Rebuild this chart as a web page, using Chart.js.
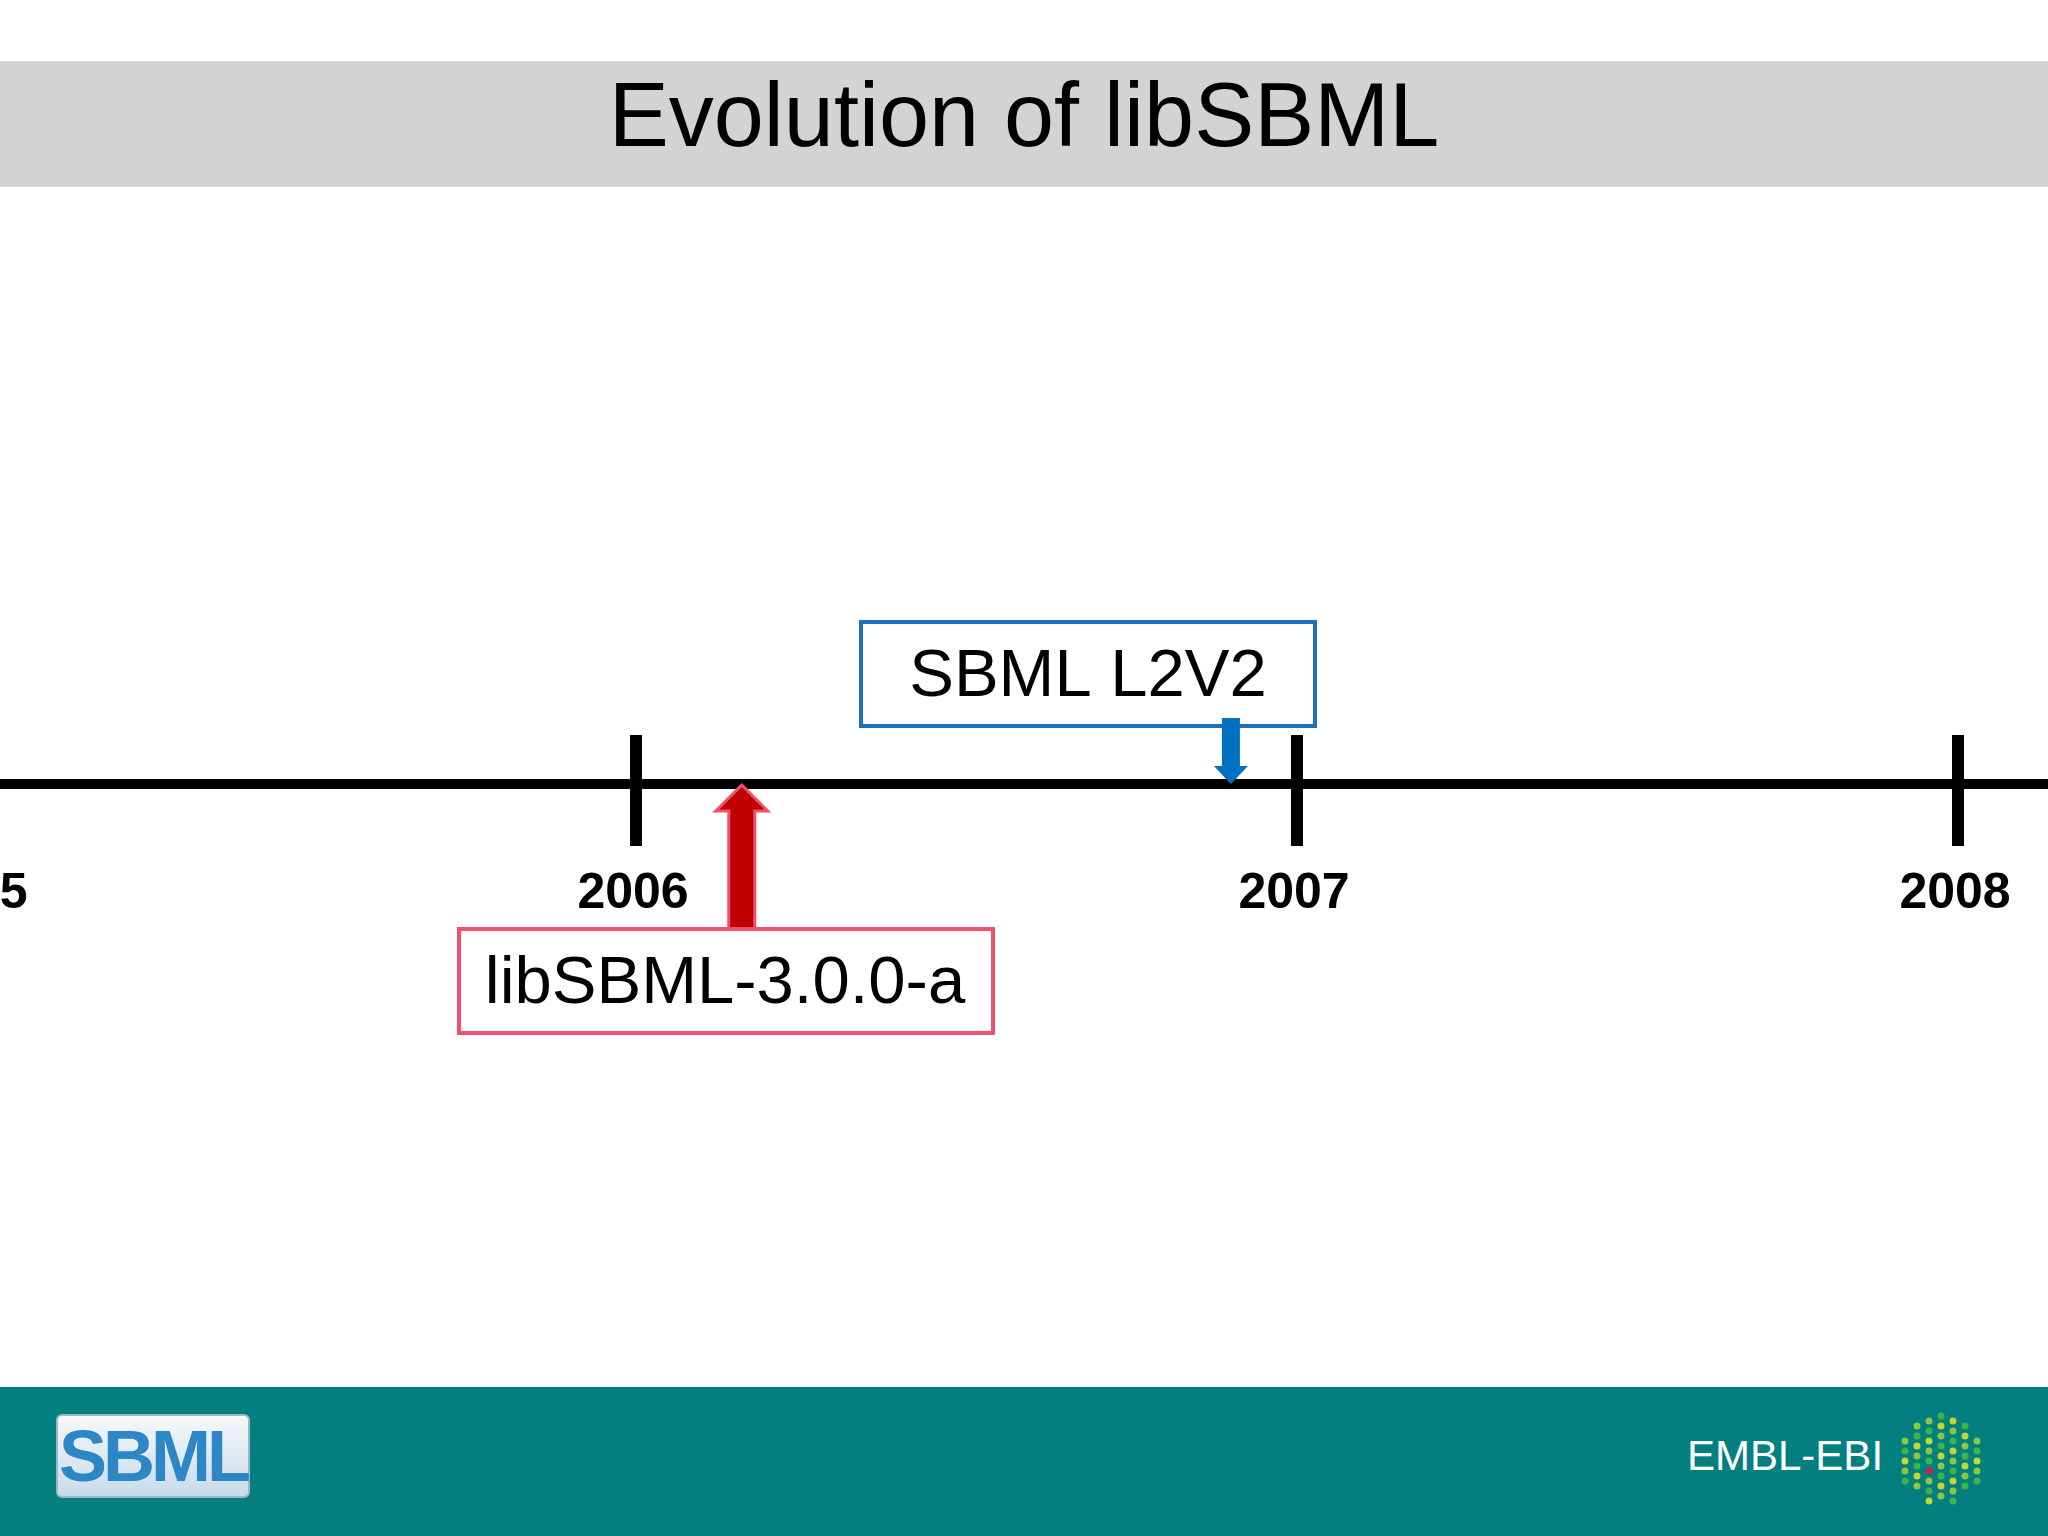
<!DOCTYPE html>
<html>
<head>
<meta charset="utf-8">
<script src="https://cdn.jsdelivr.net/npm/chart.js@4/dist/chart.umd.min.js"></script>
<style>
  html, body { margin: 0; padding: 0; background: #fff; }
  #wrap { position: relative; width: 2048px; height: 1536px; overflow: hidden; }
  #band { position: absolute; left: 0; top: 61px; width: 2048px; height: 126px; background: #d3d3d3; }
  #title { position: absolute; left: 0; top: 64px; width: 2048px; height: 126px; line-height: 126px;
           text-align: center; font: 90px "Liberation Sans", Arial, sans-serif; color: #000; }
  #footer { position: absolute; left: 0; top: 1387px; width: 2048px; height: 149px; background: #037f7f; }
  #sbml { position: absolute; left: 56px; top: 1414px; width: 190px; height: 80px; border-radius: 6px;
          background: linear-gradient(#f4f8fb, #c9dbe9); border: 2px solid #9fb6c8;
          font: bold 72px "Liberation Sans", Arial, sans-serif; color: #2d86c6; line-height: 80px;
          text-align: center; letter-spacing: -4px; }
  #ebi { position: absolute; left: 1687px; top: 1432px; font: 42px "Liberation Sans", Arial, sans-serif; color: #fff; }
  canvas { position: absolute; left: 0; top: 0; }
</style>
</head>
<body>
<div id="wrap">
  <div id="band"></div>
  <div id="title">Evolution of libSBML</div>
  <div id="footer"></div>
  <div id="sbml">SBML</div>
  <div id="ebi">EMBL-EBI</div>
  <canvas id="timeline" width="2048" height="1536"></canvas>
</div>
<script>
const years = [2005, 2006, 2007, 2008];
const eventLabels = ['libSBML-3.0.0-a', 'SBML L2V2'];
const eventDates = [2006.16, 2006.9];
const eventColors = ['#c00000', '#0070c0'];
const eventBorders = ['#f0506e', '#1f6fc0'];
const eventSides = ['below', 'above'];

const LINE_Y = 784;

const timelinePlugin = {
  id: 'timeline',
  afterDraw(chart) {
    const ctx = chart.ctx;
    const x = chart.scales.x;
    ctx.save();
    // main line
    ctx.fillStyle = '#000';
    ctx.fillRect(0, LINE_Y - 5, chart.width, 10);
    // ticks and labels
    ctx.font = 'bold 50px "Liberation Sans", Arial, sans-serif';
    ctx.textAlign = 'center';
    ctx.textBaseline = 'middle';
    years.forEach(y => {
      const px = x.getPixelForValue(y);
      ctx.fillRect(px - 6, 735, 12, 111);
      ctx.fillText(String(y), px - 3, 894);
    });
    // events
    eventDates.forEach((d, i) => {
      const px = x.getPixelForValue(d);
      ctx.fillStyle = eventColors[i];
      ctx.lineWidth = 3;
      if (eventSides[i] === 'below') {
        ctx.beginPath();
        ctx.moveTo(px, LINE_Y + 1);
        ctx.lineTo(px + 26, LINE_Y + 27);
        ctx.lineTo(px + 13, LINE_Y + 27);
        ctx.lineTo(px + 13, 929);
        ctx.lineTo(px - 13, 929);
        ctx.lineTo(px - 13, LINE_Y + 27);
        ctx.lineTo(px - 26, LINE_Y + 27);
        ctx.closePath();
        ctx.strokeStyle = '#f0506e';
        ctx.fill();
        ctx.stroke();
        // box
        ctx.strokeStyle = eventBorders[i];
        ctx.lineWidth = 4;
        ctx.fillStyle = '#fff';
        ctx.fillRect(459, 929, 534, 104);
        ctx.strokeRect(459, 929, 534, 104);
        ctx.fillStyle = '#000';
        ctx.font = '67px "Liberation Sans", Arial, sans-serif';
        ctx.fillText(eventLabels[i], 725, 985);
      } else {
        ctx.strokeStyle = eventBorders[i];
        ctx.lineWidth = 4;
        ctx.fillStyle = '#fff';
        ctx.fillRect(861, 622, 454, 104);
        ctx.strokeRect(861, 622, 454, 104);
        ctx.fillStyle = '#000';
        ctx.font = '67px "Liberation Sans", Arial, sans-serif';
        ctx.fillText(eventLabels[i], 1088, 678);
        ctx.fillStyle = eventColors[i];
        ctx.beginPath();
        ctx.moveTo(px - 9, 718);
        ctx.lineTo(px + 9, 718);
        ctx.lineTo(px + 9, 766);
        ctx.lineTo(px + 17, 766);
        ctx.lineTo(px, LINE_Y);
        ctx.lineTo(px - 17, 766);
        ctx.lineTo(px - 9, 766);
        ctx.closePath();
        ctx.fill();
      }
    });
    // EBI dotted logo
    const cx = 1941, cy = 1456;
    const dots = ['#8cc63f', '#39b54a', '#c2d82e', '#d51d4c'];
    for (let r = -4; r <= 4; r++) {
      for (let c = -3; c <= 3; c++) {
        if (Math.abs(r) + Math.abs(c) > 5) continue;
        ctx.fillStyle = (r === 1 && c === -1) ? dots[3] : dots[(r + c + 8) % 3];
        ctx.beginPath();
        ctx.arc(cx + c * 12, cy + r * 10 + (c % 2 ? 5 : 0), 3.5, 0, Math.PI * 2);
        ctx.fill();
      }
    }
    ctx.restore();
  }
};

const x2006 = 636, perYear = 661;
const xMin = 2006 - x2006 / perYear;
const xMax = xMin + 2048 / perYear;

new Chart(document.getElementById('timeline'), {
  type: 'scatter',
  data: { datasets: [{ data: eventDates.map(d => ({ x: d, y: 0 })), pointRadius: 0 }] },
  options: {
    responsive: false,
    animation: false,
    layout: { padding: 0 },
    plugins: { legend: { display: false }, tooltip: { enabled: false } },
    scales: {
      x: { type: 'linear', min: xMin, max: xMax, display: false },
      y: { min: -1, max: 1, display: false }
    }
  },
  plugins: [timelinePlugin]
});
</script>
</body>
</html>
